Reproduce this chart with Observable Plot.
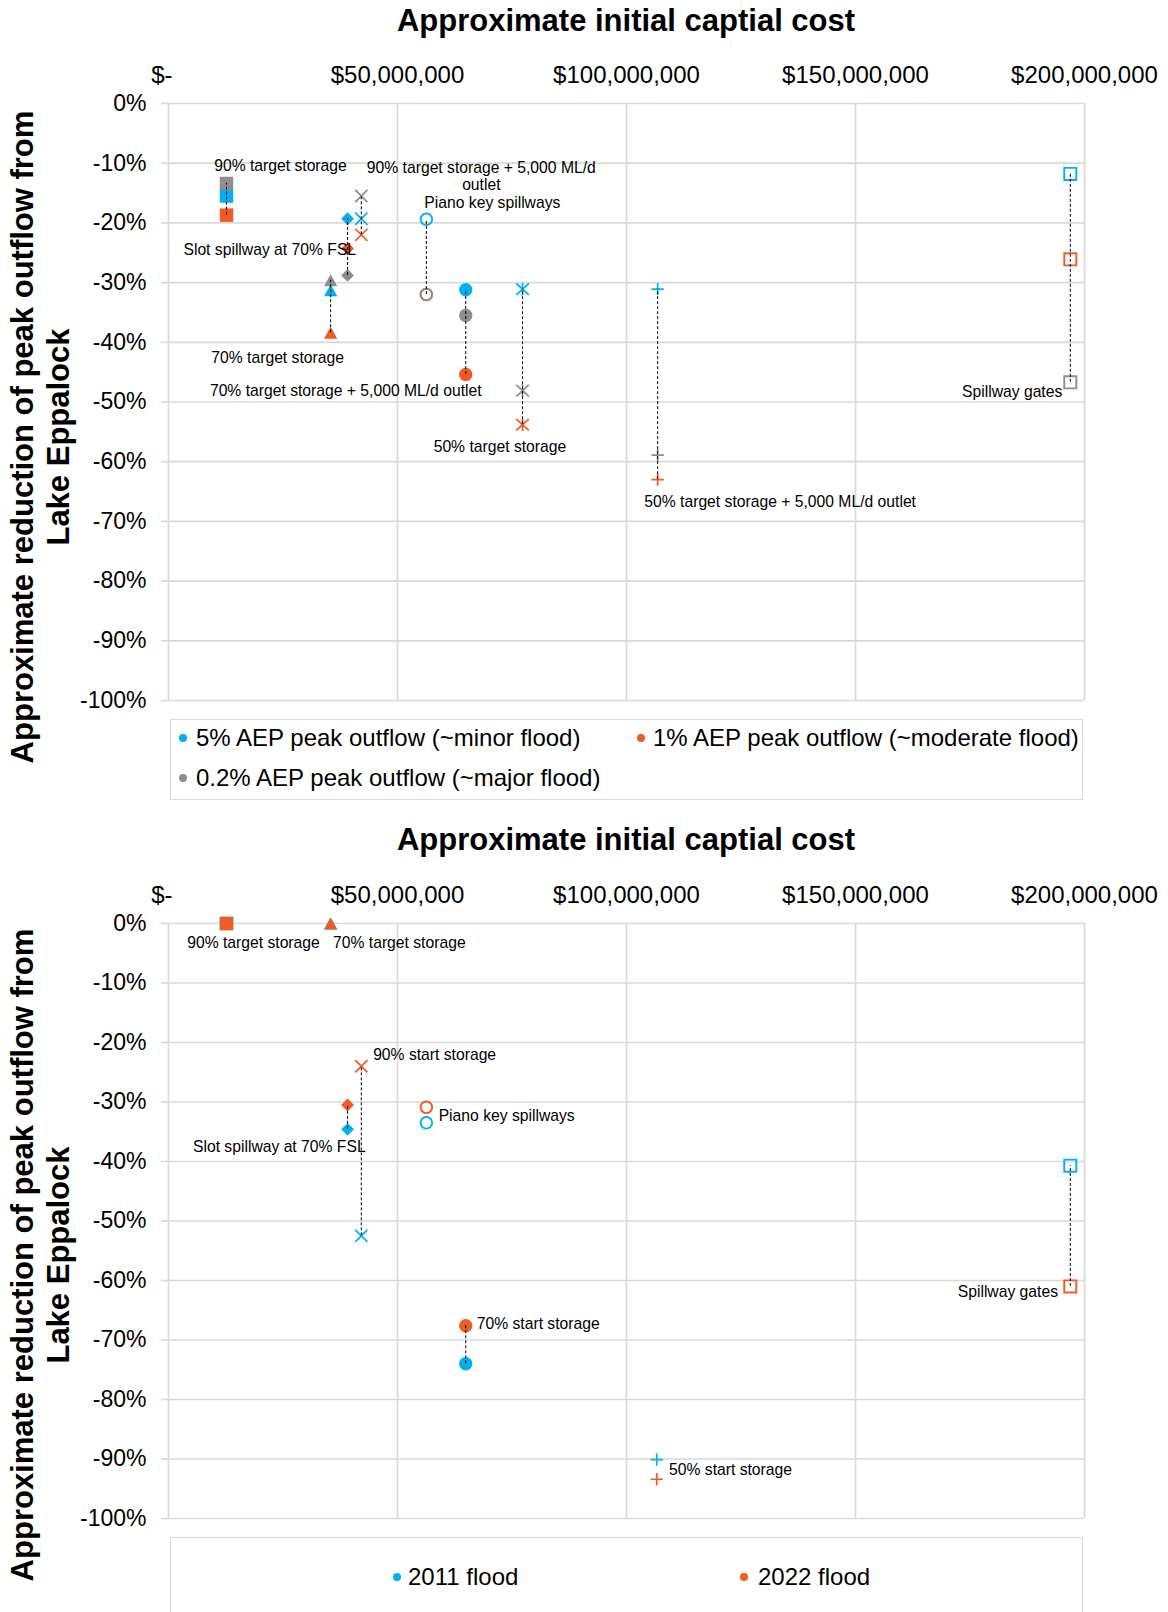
<!DOCTYPE html>
<html>
<head>
<meta charset="utf-8">
<script src="https://cdn.jsdelivr.net/npm/d3@7"></script>
<script src="https://cdn.jsdelivr.net/npm/@observablehq/plot@0.6"></script>
<style>
  html, body { margin: 0; padding: 0; background: #fff; }
  body { font-family: "Liberation Sans", Arial, sans-serif; color: #000; }
  #page { position: relative; width: 1168px; height: 1612px; overflow: hidden; background: #fff; }
  .abs { position: absolute; }
  .title { font-size: 31px; font-weight: bold; line-height: 31px; text-align: center; white-space: nowrap; }
  .ytitle { font-size: 31px; font-weight: bold; line-height: 36px; text-align: center; white-space: nowrap;
            transform: translate(-50%, -50%) rotate(-90deg); }
  .legbox { border: 1.5px solid #d9d9d9; box-sizing: border-box; }
  .legtext { font-size: 24px; line-height: 24px; white-space: nowrap; }
  .legdot { width: 8px; height: 8px; border-radius: 50%; transform: translate(-50%, -50%); }
  .plot { position: absolute; left: 0; }
</style>
</head>
<body>
<div id="page"></div>
<script>
// ---------------- DATA ----------------
// Chart 1: design flood events
const scenariosTop = [
  "90% target storage",
  "Slot spillway at 70% FSL",
  "90% target storage + 5,000 ML/d outlet",
  "70% target storage",
  "Piano key spillways",
  "70% target storage + 5,000 ML/d outlet",
  "50% target storage",
  "50% target storage + 5,000 ML/d outlet",
  "Spillway gates"
];
const costTop = [12.66e6, 39.1e6, 42.1e6, 35.4e6, 56.3e6, 64.9e6, 77.3e6, 106.8e6, 196.9e6];
const aep5 = [-15.5, -19.3, -19.3, -31.3, -19.4, -31.2, -31.1, -31.1, -11.8];
const aep1 = [-18.7, -24.3, -22.0, -38.4, -32.0, -45.4, -53.8, -63.0, -26.1];
const aep02 = [-13.4, -28.8, -15.5, -29.6, -32.0, -35.5, -48.1, -58.9, -46.7];
const seriesTop = [
  "5% AEP peak outflow (~minor flood)",
  "1% AEP peak outflow (~moderate flood)",
  "0.2% AEP peak outflow (~major flood)"
];
const linkedTop = [true, true, true, true, true, true, true, true, true];

// Chart 2: historical floods
const scenariosBottom = [
  "90% target storage",
  "70% target storage",
  "90% start storage",
  "Slot spillway at 70% FSL",
  "Piano key spillways",
  "70% start storage",
  "50% start storage",
  "Spillway gates"
];
const costBottom = [12.66e6, 35.4e6, 42.1e6, 39.1e6, 56.3e6, 64.9e6, 106.6e6, 196.9e6];
const flood2011 = [0, 0, -52.5, -34.6, -33.5, -74.0, -90.1, -40.7];
const flood2022 = [0, 0, -24.0, -30.5, -30.9, -67.6, -93.4, -61.0];
const seriesBottom = ["2011 flood", "2022 flood"];
const linkedBottom = [false, false, true, true, false, true, false, true];

// Axis ticks
const xTicks = [0, 50e6, 100e6, 150e6, 200e6];
const yTicks = [0, -10, -20, -30, -40, -50, -60, -70, -80, -90, -100];

// ---------------- STYLES ----------------
const BLUE = "#00B0F0", ORANGE = "#F05A24", GREY = "#8E8E8E";
const colorsTop = [BLUE, ORANGE, GREY];
const colorsBottom = [BLUE, ORANGE];
const FONT = "Liberation Sans, Arial, sans-serif";

const starSym = { draw(ctx, size) {
  const r = Math.sqrt(size / Math.PI);
  ctx.moveTo(-r, -r * 0.9); ctx.lineTo(r, r * 0.9);
  ctx.moveTo(r, -r * 0.9); ctx.lineTo(-r, r * 0.9);
  ctx.moveTo(0, -r); ctx.lineTo(0, r);
}};
const plusSym = { draw(ctx, size) {
  const r = Math.sqrt(size / Math.PI);
  ctx.moveTo(-r, 0); ctx.lineTo(r, 0);
  ctx.moveTo(0, -r); ctx.lineTo(0, r);
}};
const timesSym = { draw(ctx, size) {
  const r = Math.sqrt(size / Math.PI);
  ctx.moveTo(-r, -r); ctx.lineTo(r, r);
  ctx.moveTo(r, -r); ctx.lineTo(-r, r);
}};
const triSym = { draw(ctx, size) {
  const r = Math.sqrt(size / Math.PI);
  const hw = r * 1.33, hh = r * 1.2;
  ctx.moveTo(0, -hh); ctx.lineTo(hw, hh); ctx.lineTo(-hw, hh); ctx.closePath();
}};
const M = {
  sqFill:   {symbol: "square", kind: "fill", r: 7.6},
  diamond:  {symbol: "diamond2", kind: "fill", r: 5.8},
  times:    {symbol: timesSym, kind: "stroke", r: 6.1},
  tri:      {symbol: triSym, kind: "fill", r: 5},
  circOpen: {symbol: "circle", kind: "open", r: 5.8},
  circFill: {symbol: "circle", kind: "fill", r: 6.7},
  star:     {symbol: starSym, kind: "stroke", r: 6.3},
  plus:     {symbol: plusSym, kind: "stroke", r: 6.2},
  sqOpen:   {symbol: "square", kind: "open", r: 6.8}
};
const markersTop = {
  "90% target storage": M.sqFill,
  "Slot spillway at 70% FSL": M.diamond,
  "90% target storage + 5,000 ML/d outlet": M.times,
  "70% target storage": M.tri,
  "Piano key spillways": M.circOpen,
  "70% target storage + 5,000 ML/d outlet": M.circFill,
  "50% target storage": M.star,
  "50% target storage + 5,000 ML/d outlet": M.plus,
  "Spillway gates": M.sqOpen
};
const markersBottom = {
  "90% target storage": M.sqFill,
  "70% target storage": M.tri,
  "90% start storage": M.times,
  "Slot spillway at 70% FSL": M.diamond,
  "Piano key spillways": M.circOpen,
  "70% start storage": M.circFill,
  "50% start storage": M.plus,
  "Spillway gates": M.sqOpen
};
// label placement relative to one of the scenario's points (series index)
const labelsTop = {
  "90% target storage": {s: 2, dx: 54, dy: -18, anchor: "middle"},
  "90% target storage + 5,000 ML/d outlet": {s: 2, dx: 120, dy: -20, anchor: "middle", text: "90% target storage + 5,000 ML/d\noutlet"},
  "Piano key spillways": {s: 0, dx: 66, dy: -17, anchor: "middle"},
  "Slot spillway at 70% FSL": {s: 1, dx: 8.5, dy: 1, anchor: "end"},
  "70% target storage": {s: 1, dx: -53, dy: 24.5, anchor: "middle"},
  "70% target storage + 5,000 ML/d outlet": {s: 1, dx: -120, dy: 16, anchor: "middle"},
  "50% target storage": {s: 1, dx: -22.6, dy: 21.4, anchor: "middle"},
  "50% target storage + 5,000 ML/d outlet": {s: 1, dx: 122.5, dy: 22, anchor: "middle"},
  "Spillway gates": {s: 2, dx: -8, dy: 9, anchor: "end"}
};
const labelsBottom = {
  "90% target storage": {s: 1, dx: 27, dy: 19, anchor: "middle"},
  "70% target storage": {s: 1, dx: 68.7, dy: 19, anchor: "middle"},
  "90% start storage": {s: 1, dx: 73.3, dy: -11.7, anchor: "middle"},
  "Piano key spillways": {s: 1, dx: 12.3, dy: 8.3, anchor: "start"},
  "Slot spillway at 70% FSL": {s: 0, dx: -68.3, dy: 17, anchor: "middle"},
  "70% start storage": {s: 1, dx: 11, dy: -2.3, anchor: "start"},
  "50% start storage": {s: 0, dx: 12.3, dy: 10, anchor: "start"},
  "Spillway gates": {s: 1, dx: -12.3, dy: 5, anchor: "end"}
};

// ---------------- BUILD ----------------
const fmtCost = d => d === 0 ? "$-\u00a0\u00a0" : "$" + d3.format(",")(d);

function buildChart({scenarios, costs, seriesValues, colors, markers, labels, linked, height}) {
  const rows = [];
  scenarios.forEach((sc, i) => {
    seriesValues.forEach((vals, s) => {
      if (vals[i] != null) rows.push({scenario: sc, cost: costs[i], value: vals[i], s});
    });
  });
  const marks = [
    Plot.gridX({ticks: xTicks, stroke: "#d9d9d9", strokeOpacity: 1, strokeWidth: 1.7}),
    Plot.gridY({ticks: yTicks, stroke: "#d9d9d9", strokeOpacity: 1, strokeWidth: 1.7}),
    Plot.axisY({anchor: "left", ticks: yTicks, tickSize: 7, tickFormat: () => "", color: "#d9d9d9", strokeWidth: 1.7, label: null}),
    Plot.axisY({anchor: "left", ticks: yTicks, tickSize: 0, tickPadding: 22, tickFormat: d => d + "%", fontSize: 23, label: null, fill: "#000"}),
    Plot.axisX({anchor: "top", ticks: xTicks, tickSize: 0, tickPadding: 21, tickFormat: fmtCost, fontSize: 24, label: null, fill: "#000"})
  ];
  // markers: series drawn in order
  scenarios.forEach(sc => {
    const st = markers[sc];
    seriesValues.forEach((_, s) => {
      const data = rows.filter(r => r.scenario === sc && r.s === s);
      if (!data.length) return;
      const c = colors[s];
      const opts = {x: "cost", y: "value", symbol: st.symbol, r: st.r};
      if (st.kind === "fill") Object.assign(opts, {fill: c, stroke: "none"});
      else if (st.kind === "open") Object.assign(opts, {fill: "none", stroke: c, strokeWidth: 1.9});
      else Object.assign(opts, {fill: "none", stroke: c, strokeWidth: 1.7});
      marks.push(Plot.dot(data, opts));
    });
  });
  // dashed connectors spanning each scenario's values
  const links = scenarios.map((sc, i) => {
    const vals = seriesValues.map(v => v[i]).filter(v => v != null);
    const [lo, hi] = d3.extent(vals);
    return {scenario: sc, cost: costs[i], lo, hi, on: linked[i]};
  }).filter(d => d.on && d.lo !== d.hi);
  marks.push(Plot.ruleX(links, {x: "cost", y1: "lo", y2: "hi", stroke: "#000", strokeWidth: 1, strokeDasharray: "3,2"}));
  // labels
  scenarios.forEach((sc, i) => {
    const L = labels[sc];
    if (!L) return;
    const v = seriesValues[L.s][i];
    marks.push(Plot.text([{cost: costs[i], value: v, t: L.text || sc}], {
      x: "cost", y: "value", text: "t", dx: L.dx, dy: L.dy, textAnchor: L.anchor,
      lineAnchor: "middle", lineHeight: 1.12, fontSize: 15.7, fill: "#000"
    }));
  });
  return Plot.plot({
    width: 1168, height,
    marginLeft: 168, marginRight: 84, marginTop: 103, marginBottom: 10,
    x: {domain: [0, 200e6], label: null},
    y: {domain: [-100, 0], label: null},
    style: {fontFamily: FONT, fontSize: "15.7px", color: "#000", background: "transparent", overflow: "visible"},
    marks
  });
}

const page = document.getElementById("page");
function add(html, cls, css) {
  const d = document.createElement("div");
  d.className = "abs " + (cls || "");
  Object.assign(d.style, css);
  d.innerHTML = html;
  page.appendChild(d);
  return d;
}

// ---- Chart 1 ----
const p1 = buildChart({
  scenarios: scenariosTop, costs: costTop, seriesValues: [aep5, aep1, aep02],
  colors: colorsTop, markers: markersTop, labels: labelsTop, linked: linkedTop, height: 710
});
p1.classList.add("plot"); p1.style.top = "0px";
page.appendChild(p1);
add("Approximate initial captial cost", "title", {left: "168px", width: "916px", top: "5px"});
add("Approximate reduction of peak outflow from<br>Lake Eppalock", "ytitle", {left: "41px", top: "437px"});
add("", "legbox", {left: "170px", top: "719px", width: "913px", height: "81px"});
const legTop = [
  {x: 183, tx: 196, y: 738},
  {x: 640.5, tx: 653, y: 738},
  {x: 183, tx: 196, y: 778}
];
seriesTop.forEach((name, i) => {
  const L = legTop[i];
  add("", "legdot", {left: L.x + "px", top: L.y + "px", background: colorsTop[i]});
  add(name, "legtext", {left: L.tx + "px", top: (L.y + 8.6 - 20.3) + "px"});
});

// ---- Chart 2 ----
const p2 = buildChart({
  scenarios: scenariosBottom, costs: costBottom, seriesValues: [flood2011, flood2022],
  colors: colorsBottom, markers: markersBottom, labels: labelsBottom, linked: linkedBottom, height: 708
});
p2.classList.add("plot"); p2.style.top = "820px";
page.appendChild(p2);
add("Approximate initial captial cost", "title", {left: "168px", width: "916px", top: "824px"});
add("Approximate reduction of peak outflow from<br>Lake Eppalock", "ytitle", {left: "41px", top: "1255px"});
add("", "legbox", {left: "170px", top: "1537px", width: "913px", height: "120px"});
const legBottom = [
  {x: 397, tx: 408, y: 1577},
  {x: 744, tx: 758, y: 1577}
];
seriesBottom.forEach((name, i) => {
  const L = legBottom[i];
  add("", "legdot", {left: L.x + "px", top: L.y + "px", background: colorsBottom[i]});
  add(name, "legtext", {left: L.tx + "px", top: (L.y + 8.6 - 20.3) + "px"});
});
</script>
</body>
</html>
